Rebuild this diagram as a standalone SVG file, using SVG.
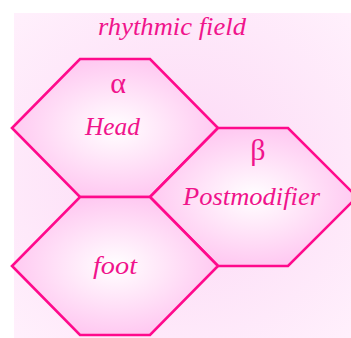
<svg xmlns="http://www.w3.org/2000/svg" width="351" height="338" viewBox="0 0 351 338">
<style>
.hex{stroke:#ff0a8c;stroke-width:2.6;stroke-linejoin:miter;fill:url(#hg)}
.lbl{font-family:"Liberation Serif","Times New Roman",serif;font-style:italic;font-size:25px;fill:#f0148c;text-anchor:middle}
.greek{font-family:"Liberation Serif","DejaVu Serif",serif;font-size:30px;fill:#f0148c;text-anchor:middle}
</style>
<defs>
<radialGradient id="hg" cx="0.5" cy="0.5" r="0.55">
<stop offset="0" stop-color="#ffffff"/>
<stop offset="1" stop-color="#ffc4f0"/>
</radialGradient>
<radialGradient id="bg" cx="0.5" cy="0.5" r="0.7">
<stop offset="0" stop-color="#fcd8f5"/>
<stop offset="1" stop-color="#fff0fc"/>
</radialGradient>
</defs>
<rect x="0" y="0" width="351" height="338" fill="#ffffff"/>
<rect x="14" y="13" width="337" height="325" fill="url(#bg)"/>
<text class="lbl" x="172" y="35" textLength="148" lengthAdjust="spacingAndGlyphs">rhythmic field</text>
<g id="head">
<polygon class="hex" points="80,59 150,59 218,128 150,197 80,197 12,128"/>
<text class="greek" x="118" y="93">α</text>
<text class="lbl" x="112.5" y="135" textLength="55" lengthAdjust="spacingAndGlyphs">Head</text>
</g>
<g id="postmodifier">
<polygon class="hex" points="218,128 288,128 357,197 288,266 218,266 150,197"/>
<text class="greek" x="258" y="160">β</text>
<text class="lbl" x="251.5" y="205" textLength="137" lengthAdjust="spacingAndGlyphs">Postmodifier</text>
</g>
<g id="foot">
<polygon class="hex" points="80,197 150,197 218,266 150,335 80,335 12,266"/>
<text class="lbl" x="115" y="274" textLength="44" lengthAdjust="spacingAndGlyphs">foot</text>
</g>
<g id="connectors"></g>
</svg>
